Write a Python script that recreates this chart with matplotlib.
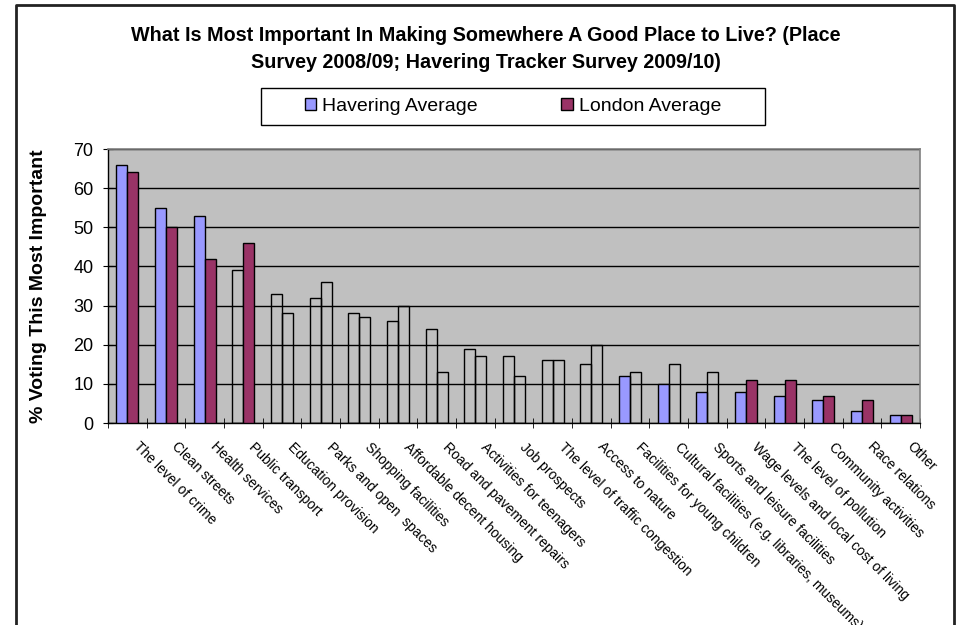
import numpy as np
import matplotlib
matplotlib.use('Agg')
import matplotlib.pyplot as plt
import matplotlib.transforms as mtransforms
from matplotlib.patches import Patch, Rectangle
from matplotlib.lines import Line2D

plt.rcParams['font.family'] = ['Liberation Sans', 'DejaVu Sans']

categories = [
    'The level of crime', 'Clean streets', 'Health services', 'Public transport',
    'Education provision', 'Parks and open  spaces', 'Shopping facilities',
    'Affordable decent housing', 'Road and pavement repairs',
    'Activities for teenagers', 'Job prospects', 'The level of traffic congestion',
    'Access to nature', 'Facilities for young children',
    'Cultural facilities (e.g. libraries, museums)', 'Sports and leisure facilities',
    'Wage levels and local cost of living', 'The level of pollution',
    'Community activities', 'Race relations', 'Other',
]
havering = [66, 55, 53, 39, 33, 32, 28, 26, 24, 19, 17, 16, 15, 12, 10, 8, 8, 7, 6, 3, 2]
london = [64, 50, 42, 46, 28, 36, 27, 30, 13, 17, 12, 16, 20, 13, 15, 13, 11, 11, 7, 6, 2]
# which bars carry colour in the original (the rest are drawn as empty outlines)
havering_filled = [1, 1, 1, 0, 0, 0, 0, 0, 0, 0, 0, 0, 0, 1, 1, 1, 1, 1, 1, 1, 1]
london_filled = [1, 1, 1, 1, 0, 0, 0, 0, 0, 0, 0, 0, 0, 0, 0, 0, 1, 1, 1, 1, 1]

blue = '#9999FF'
maroon = '#993366'
grey_bg = '#C0C0C0'

fig = plt.figure(figsize=(9.56, 6.25), dpi=100)
ax = fig.add_axes([108 / 956, 1 - 423 / 625, (920 - 108) / 956, (423 - 149) / 625])
ax.set_facecolor(grey_bg)

x = np.arange(len(categories))
w = 0.285
hcol = [blue if f else 'none' for f in havering_filled]
lcol = [maroon if f else 'none' for f in london_filled]
ax.bar(x - w / 2, havering, w, color=hcol, edgecolor='black', linewidth=1, zorder=3)
ax.bar(x + w / 2, london, w, color=lcol, edgecolor='black', linewidth=1, zorder=3)

ax.set_xlim(-0.5, len(categories) - 0.5)
ax.set_ylim(0, 70)
ax.set_yticks(range(0, 71, 10))
ax.yaxis.grid(True, color='black', linewidth=1, zorder=1)
ax.set_axisbelow(True)

for s in ['top', 'right']:
    ax.spines[s].set_color('#808080')
    ax.spines[s].set_linewidth(1.2)
for s in ['left', 'bottom']:
    ax.spines[s].set_color('black')
    ax.spines[s].set_linewidth(1)

ax.tick_params(axis='y', direction='inout', length=7, labelsize=13, pad=7)
ax.set_xticks(x)
ax.set_xticks(np.arange(-0.5, len(categories), 1), minor=True)
ax.tick_params(axis='x', which='major', length=0, pad=12)
ax.tick_params(axis='x', which='minor', direction='inout', length=7)
ax.set_xticklabels(categories, rotation=-45, ha='left', va='top',
                   rotation_mode='anchor', fontsize=10)
offset = mtransforms.ScaledTranslation(13 / 100, 0, fig.dpi_scale_trans)
for lab in ax.get_xticklabels():
    lab.set_transform(lab.get_transform() + offset)

ax.set_ylabel('% Voting This Most Important', fontsize=14, fontweight='bold')
ax.yaxis.set_label_coords(-(108 - 47) / (920 - 108), 0.5)

fig.text(486 / 956, 1 - 49 / 625,
         'What Is Most Important In Making Somewhere A Good Place to Live? (Place\n'
         'Survey 2008/09; Havering Tracker Survey 2009/10)',
         ha='center', va='center', fontsize=14.2, fontweight='bold', linespacing=1.5)

# legend box
fig.patches.append(Rectangle((261 / 956, 1 - 125 / 625), (765 - 261) / 956, 37 / 625,
                             transform=fig.transFigure, facecolor='white',
                             edgecolor='black', linewidth=1))
handles = [Patch(facecolor=blue, edgecolor='black', label='Havering Average'),
           Patch(facecolor=maroon, edgecolor='black', label='London Average')]
fig.legend(handles=handles, loc='center', bbox_to_anchor=(513 / 956, 1 - 106.5 / 625),
           ncol=2, frameon=False, fontsize=14, handlelength=0.6, handleheight=0.6,
           handletextpad=0.3, columnspacing=4.3)

# outer chart border
fig.lines.append(Line2D([16 / 956, 16 / 956, 954 / 956, 954 / 956],
                        [0, 1 - 5 / 625, 1 - 5 / 625, 0],
                        transform=fig.transFigure, color='#222222', linewidth=2))

fig.savefig('out.png', dpi=100)
